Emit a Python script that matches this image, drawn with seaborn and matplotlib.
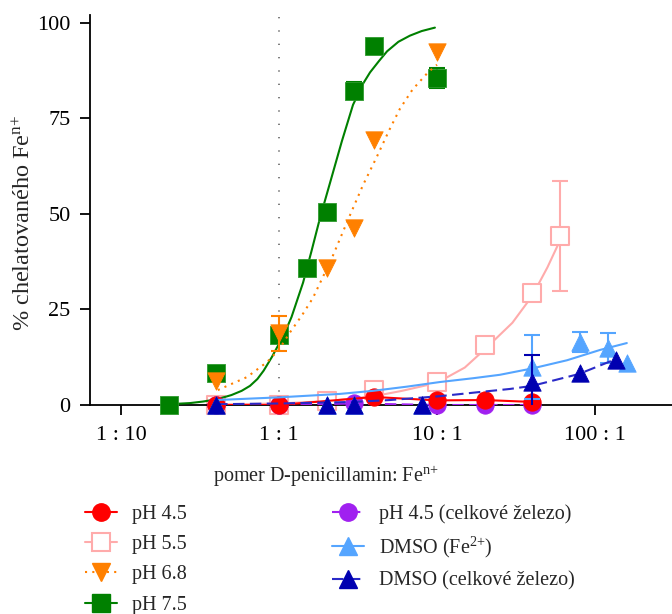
import matplotlib
matplotlib.use("Agg")
import matplotlib.pyplot as plt
from matplotlib.lines import Line2D
from matplotlib.ticker import NullLocator, FixedLocator
import seaborn as sns

# ---------------- data ----------------
# pH 4.5 (red, filled circles, solid line through points)
ph45_x = [0.4, 1, 4, 10, 20, 40]
ph45_y = [0, 0, 2.1, 1.2, 1.3, 0.8]

# pH 5.5 (pink, open squares, fitted curve)
ph55_x = [0.4, 1, 2, 4, 10, 20, 40, 60]
ph55_y = [0, 0, 1.0, 3.9, 6.0, 15.7, 29.2, 44.1]
ph55_err = [0, 0, 0, 0, 0, 0, 0, 14.4]
ph55_fit_x = [0.4, 1, 2, 4, 6, 10, 15, 20, 30, 40, 50, 60]
ph55_fit_y = [0.1, 0.4, 1.0, 2.3, 3.7, 5.8, 9.8, 14.5, 21.5, 28.5, 36, 43]

# pH 6.8 (orange, down triangles, dotted fit)
ph68_x = [0.4, 1, 2, 3, 4, 10]
ph68_y = [6.3, 18.8, 35.8, 46.2, 69.2, 92.2]
ph68_err = [0, 4.6, 0, 0, 0, 0]
ph68_fit_x = [0.41, 0.5, 0.627, 0.839, 1.0, 1.174, 1.4, 1.64, 2.17, 2.77,
              3.4, 4.17, 5.0, 5.83, 7.0, 8.77, 10]
ph68_fit_y = [3.9, 5.5, 7.3, 11.2, 14.5, 19, 23.5, 28, 38.6, 49,
              57.5, 65, 72, 77.5, 82.5, 87, 89]

# pH 7.5 (green, squares, solid fit)
ph75_x = [0.2, 0.4, 1, 1.5, 2, 3, 4, 10]
ph75_y = [0, 8.5, 18.3, 35.8, 50.4, 82.2, 93.8, 85.6]
ph75_err = [0, 0, 0, 0, 0, 2.2, 0, 2.6]
ph75_fit_x = [0.2, 0.273, 0.33, 0.405, 0.5, 0.58, 0.655, 0.73, 0.8, 0.9, 1.0,
              1.06, 1.2, 1.42, 1.6, 1.82, 2.1, 2.5, 2.94, 3.4, 3.77, 4.3,
              4.83, 5.7, 6.74, 8.0, 9.7]
ph75_fit_y = [0.2, 0.5, 0.9, 1.5, 2.6, 3.7, 5.0, 6.8, 9.0, 12.5, 16,
              17.8, 23, 32, 40, 49, 58, 69, 78.5, 84, 87, 90,
              92.5, 95, 96.6, 97.8, 98.7]

# pH 4.5 total iron (purple, circles, dashed)
ph45t_x = [0.4, 1, 3, 10, 20, 40]
ph45t_y = [0, 0, 0.4, 0, 0, 0]

# DMSO Fe2+ (light blue, up triangles, solid fit)
dmso2_x = [0.4, 2, 3, 8, 40, 80, 120, 160]
dmso2_y = [0, 0, 0, 0, 10.0, 16.5, 14.9, 11.0]
dmso2_err = [0, 0, 0, 0, 8.3, 2.6, 3.9, 0]
dmso2_fit_x = [0.405, 1, 2.43, 3.93, 6.45, 10.4, 16.9, 25, 40.5, 66.5, 107.6, 159]
dmso2_fit_y = [1.3, 2.0, 2.9, 3.7, 4.8, 6.0, 7.0, 7.9, 9.6, 11.7, 14.4, 16.2]

# DMSO total iron (dark blue, up triangles, dashed fit)
dmsot_x = [0.4, 2, 3, 8, 40, 80, 135]
dmsot_y = [0, 0, 0, 0, 6.0, 8.3, 11.7]
dmsot_err = [0, 0, 0, 0, 7.0, 0, 0]
dmsot_fit_x = [0.4, 1, 2.94, 5.04, 10.4, 18.7, 29, 40, 79, 130]
dmsot_fit_y = [0.2, 0.4, 0.8, 1.3, 2.3, 3.4, 4.2, 5.0, 8.1, 11.7]

x_ticks = [0.1, 1, 10, 100]
x_tick_labels = ["1 : 10", "1 : 1", "10 : 1", "100 : 1"]
y_ticks = [0, 25, 50, 75, 100]

SUP_N = "$^{\\mathregular{n{+}}}$"
labels = ["pH 4.5", "pH 5.5", "pH 6.8", "pH 7.5",
          "pH 4.5 (celkové železo)", "DMSO (Fe$^{\\mathregular{2{+}}}$)",
          "DMSO (celkové železo)"]

# ---------------- style ----------------
sns.set_theme(style="ticks")
plt.rcParams["font.family"] = ["Liberation Serif", "DejaVu Serif"]
plt.rcParams["mathtext.fontset"] = "custom"
plt.rcParams["mathtext.rm"] = "Liberation Serif"
plt.rcParams["mathtext.it"] = "Liberation Serif:italic"

W, H = 672, 614
fig = plt.figure(figsize=(W / 100, H / 100), dpi=100)
ax = fig.add_axes([90 / W, 1 - 405 / H, 1 - 90 / W, (405 - 15) / H])

RED = "#FF0000"
PINK = "#FFABAB"
ORANGE = "#FF8000"
GREEN = "#008000"
PURPLE = "#A020F0"
LBLUE = "#55A5FF"
DBLUE = "#0000B0"
DBLUE_L = "#2A2AC8"

LW = 1.5
MS = 12.5
DOT = (0, (1, 2.5))
DASH = (0, (5.5, 2.6))

ax.axvline(1, color="#666666", lw=1.2, linestyle=(0, (0.8, 7.2)), zorder=1)


def line(xs, ys, color, ls, z):
    sns.lineplot(x=xs, y=ys, color=color, linestyle=ls, lw=LW, ax=ax,
                 zorder=z, estimator=None, sort=False, legend=False)


def marks(xs, ys, marker, face, edge, z, ew=0.6):
    sns.scatterplot(x=xs, y=ys, marker=marker, s=MS ** 2, color=face,
                    edgecolor=edge, linewidth=ew, ax=ax, zorder=z,
                    clip_on=False, legend=False)


def errs(xs, ys, es, color, z):
    ex = [x for x, e in zip(xs, es) if e > 0]
    ey = [y for y, e in zip(ys, es) if e > 0]
    ee = [e for e in es if e > 0]
    if ex:
        ax.errorbar(ex, ey, yerr=ee, fmt="none", ecolor=color, elinewidth=LW,
                    capsize=5.5, capthick=LW, zorder=z)


# pink pH 5.5
line(ph55_fit_x, ph55_fit_y, PINK, "-", 2)
errs(ph55_x, ph55_y, ph55_err, PINK, 2)
marks(ph55_x, ph55_y, "s", "white", PINK, 2.1, ew=1.5)
# green pH 7.5
line(ph75_fit_x, ph75_fit_y, GREEN, "-", 3)
errs(ph75_x, ph75_y, ph75_err, GREEN, 3)
marks(ph75_x, ph75_y, "s", GREEN, "#2E9A2E", 3.1)
# orange pH 6.8
line(ph68_fit_x, ph68_fit_y, ORANGE, DOT, 4)
errs(ph68_x, ph68_y, ph68_err, ORANGE, 4)
marks(ph68_x, ph68_y, "v", ORANGE, ORANGE, 4.1)
# purple pH 4.5 total
line(ph45t_x, ph45t_y, PURPLE, DASH, 5)
marks(ph45t_x, ph45t_y, "o", PURPLE, PURPLE, 5.1)
# red pH 4.5
line(ph45_x, ph45_y, RED, "-", 6)
marks(ph45_x, ph45_y, "o", RED, RED, 6.1)
# light blue DMSO Fe2+
line(dmso2_fit_x, dmso2_fit_y, LBLUE, "-", 7)
errs(dmso2_x, dmso2_y, dmso2_err, LBLUE, 7)
marks(dmso2_x, dmso2_y, "^", LBLUE, LBLUE, 7.1)
# dark blue DMSO total
line(dmsot_fit_x, dmsot_fit_y, DBLUE_L, DASH, 8)
errs(dmsot_x, dmsot_y, dmsot_err, DBLUE, 8)
marks(dmsot_x, dmsot_y, "^", DBLUE, DBLUE, 8.1)

# ---------------- axes ----------------
ax.set_xscale("log")
ax.set_xlim(10 ** (-189 / 158), 10 ** (393 / 158))
ax.set_ylim(0, 102)
ax.xaxis.set_major_locator(FixedLocator(x_ticks))
ax.xaxis.set_minor_locator(NullLocator())
ax.set_xticklabels(x_tick_labels)
ax.set_yticks(y_ticks)
ax.tick_params(direction="out", length=7, width=1.3, labelsize=16,
               colors="black")
ax.tick_params(axis="y", pad=7)
ax.tick_params(axis="x", pad=8)
for s in ["top", "right"]:
    ax.spines[s].set_visible(False)
for s in ["left", "bottom"]:
    ax.spines[s].set_linewidth(1.3)
    ax.spines[s].set_color("black")
ax.set_xlabel("")
ax.set_ylabel("")
ax.set_facecolor("white")

fig.text(326 / W, 1 - 476 / H, "pomer D-penicillamin: Fe" + SUP_N,
         ha="center", va="center", fontsize=14.5)
fig.text(24 / W, 1 - 223 / H, "% chelatovaného Fe" + SUP_N,
         ha="center", va="center", rotation=90, fontsize=17.5)

# ---------------- legend ----------------
handles = [
    Line2D([], [], color=RED, lw=LW, marker="o", ms=MS, mfc=RED, mec=RED),
    Line2D([], [], color=PINK, lw=LW, marker="s", ms=MS, mfc="white", mec=PINK, mew=1.5),
    Line2D([], [], color=ORANGE, lw=LW, ls=DOT, marker="v", ms=MS, mfc=ORANGE, mec=ORANGE),
    Line2D([], [], color=GREEN, lw=LW, marker="s", ms=MS, mfc=GREEN, mec=GREEN),
    Line2D([], [], color=PURPLE, lw=LW, ls=DASH, marker="o", ms=MS, mfc=PURPLE, mec=PURPLE),
    Line2D([], [], color=LBLUE, lw=LW, marker="^", ms=MS, mfc=LBLUE, mec=LBLUE),
    Line2D([], [], color=DBLUE_L, lw=LW, ls=DASH, marker="^", ms=MS, mfc=DBLUE, mec=DBLUE),
]
fig.legend(handles, labels, loc="upper left", bbox_to_anchor=(85 / W, 1 - 504 / H),
           ncol=2, frameon=False, fontsize=14.5, handlelength=1.6,
           handletextpad=0.75, columnspacing=7.2, labelspacing=0.56,
           borderpad=0, borderaxespad=0)

fig.savefig("out.png", dpi=100, facecolor="white")
